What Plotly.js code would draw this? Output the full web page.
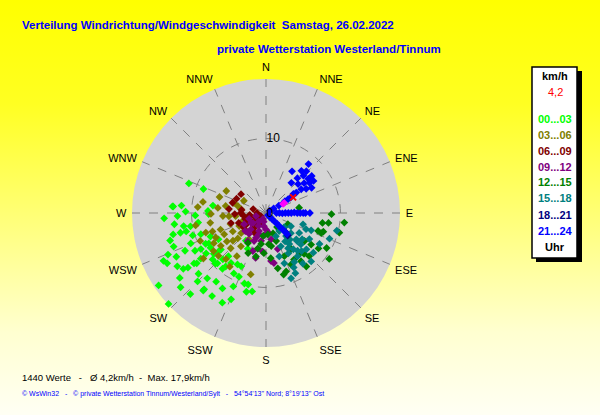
<!DOCTYPE html>
<html>
<head>
<meta charset="utf-8">
<script src="https://cdn.plot.ly/plotly-3.0.1.min.js"></script>
<style>
html,body{margin:0;padding:0;}
body{width:600px;height:415px;background:linear-gradient(to bottom,#ffff00 0%,#ffff22 25%,#ffff80 55%,#ffffd0 80%,#fffff4 100%);}
#chart{width:600px;height:415px;}
</style>
</head>
<body>
<div id="chart"></div>
<script>
// Compass labels
const dirLabels = ['N','NNE','NE','ENE','E','ESE','SE','SSE','S','SSW','SW','WSW','W','WNW','NW','NNW'];
const dirAngles = [0,22.5,45,67.5,90,112.5,135,157.5,180,202.5,225,247.5,270,292.5,315,337.5];

// Time slots (legend)
const slotLabels = ['00...03','03...06','06...09','09...12','12...15','15...18','18...21','21...24'];
const slotColors = ['#00ff00','#808000','#800000','#800080','#008000','#008080','#000080','#0000ff'];

// 00...03  direction (deg), speed (km/h)
const dir0003 = [291,291,274,275,267,268,263,261,260,262,269,278,272,257,257,253,252,250,247,245,243,239,236,235,235,242,241,236,238,232,231,223,217,215,209,208,203,197,194,190,194,202,210,216,222,228,225,233,229,236,223,219,213,227,231,221,241,247,274,206,219,243,229,224,235,248,257,268,271,205,204,244,254,207,216,225,242,218,234,245];
const spd0003 = [11.1,9.0,12.6,11.4,13.7,11.9,12.4,11.2,10.3,9.2,7.7,7.2,7.8,12.8,11.8,10.3,9.2,13.2,14.3,15.2,14.9,13.9,13.4,12.8,11.8,10.8,10.0,9.7,8.8,8.9,8.2,8.5,9.0,8.2,7.9,9.2,9.3,9.9,9.9,10.7,10.9,12.5,11.7,11.4,11.8,12.2,13.0,14.5,15.2,17.4,14.9,13.2,13.3,17.9,7.8,7.7,7.3,8.1,12.5,13.4,13.4,9.1,9.5,9.4,10.7,10.9,11.0,9.5,10.8,7.9,10.8,13.4,13.4,5.4,4.6,9.6,8.7,9.5,11.5,12.0];

// 03...06
const dir0306 = [280,275,289,299,287,279,260,276,253,243,240,234,225,228,228,194,265,264,251,280,244,243,250,252,247,228,221,230,217,213,269,244,234,260,214,214,260,299,266,241,234,284,251,234,231];
const spd0306 = [8.6,9.2,6.6,6.1,4.5,3.4,7.6,6.5,5.0,6.3,8.1,8.7,6.7,5.1,3.6,8.5,5.0,4.1,3.3,5.5,4.0,3.0,6.5,8.5,9.6,8.6,8.2,5.8,5.6,4.2,7.4,7.5,10.4,9.6,7.0,8.7,2.3,3.4,5.8,5.1,6.5,3.9,7.6,7.5,4.3];

// 06...09
const dir0609 = [307,268,287,270,260,254,228,277,263,242,218,229,219,240,254,270,207,239,250,209,296,276,287,239,245,232,262,250];
const spd0609 = [4.2,4.2,4.7,3.4,2.3,4.9,3.6,3.3,2.2,2.3,2.2,1.2,2.8,3.0,2.9,1.2,1.5,3.6,3.9,3.1,4.4,5.0,1.8,0.8,2.6,1.8,3.0,1.6];

// 09...12
const dir0912 = [223,203,193,193,219,236,189,169,162,174,171,202,198,232,201,251,190,185,180,229,213,207,253,172,199,243,210,185,220,195];
const spd0912 = [3.0,4.1,4.9,6.2,3.6,2.4,1.8,3.6,5.1,6.5,6.8,3.6,3.0,2.2,2.6,2.4,3.8,5.2,2.2,3.7,4.5,0.9,1.4,2.7,5.4,3.3,2.0,3.0,1.5,1.2];

// 12...15
const dir1215 = [81,91,100,99,97,109,108,105,120,126,126,125,137,135,144,143,154,161,164,168,174,175,175,161,160,131,117,189,193,193,183,157,149,141,110,124,171,211,204,187,142,145];
const spd1215 = [4.5,8.8,7.7,8.5,10.6,7.4,8.1,10.2,9.4,10.5,6.4,7.4,7.5,8.2,8.0,9.0,7.7,8.3,8.6,7.6,6.1,4.2,2.9,2.9,4.0,3.1,3.3,4.2,4.9,6.0,5.4,6.3,7.3,7.1,7.9,8.5,4.5,4.7,5.9,3.1,2.4,5.9];

// 15...18
const dir1518 = [107,111,112,159,139,129,131,132,132,143,151,144,156,144,128,121,121,130,144,153,160,163,118,120,112,132,143,137,146,157,137,154,104,138,148,126,140,150,135];
const spd1518 = [5.2,6.5,9.2,9.4,4.1,4.3,5.4,6.3,7.3,6.1,6.2,7.2,4.9,3.0,3.1,5.2,6.8,8.3,8.4,8.2,7.2,6.1,3.8,8.3,5.8,5.6,5.2,7.0,4.6,3.4,8.9,9.0,9.8,4.8,5.6,6.0,6.6,7.6,2.4];

// 18...21
const dir1821 = [134,136];
const spd1821 = [3.7,4.2];

// 21...24
const dir2124 = [90,90,91,90,90,90,89,90,90,90,90,90,137,136,135,135,134,135,135,134,135,135,60,59,60,58,58,57,41,32,40,44,51,45,42,40,48,52,55,61,59,56,56,55,51,56,58,60];
const spd2124 = [1.4,1.8,2.2,2.6,3.0,3.4,3.8,4.2,4.6,5.0,5.3,5.9,0.4,0.8,1.2,1.6,2.0,2.4,2.8,3.2,3.6,4.0,0.6,1.2,2.0,3.0,3.9,4.3,8.7,6.6,7.4,7.8,7.9,7.1,6.3,5.3,5.8,6.5,7.1,7.0,6.3,5.7,4.9,4.5,7.3,7.7,3.5,2.7];

// extra marks
const dirPink = [61,62];
const spdPink = [2.8,2.6];
const dirMean = [60];
const spdMean = [4.2];

const slotDirs = [dir0003,dir0306,dir0609,dir0912,dir1215,dir1518,dir1821,dir2124];
const slotSpds = [spd0003,spd0306,spd0609,spd0912,spd1215,spd1518,spd1821,spd2124];

const traces = slotDirs.map((d,i)=>({
  type:'scatterpolar', mode:'markers', theta:d, r:slotSpds[i], name:slotLabels[i],
  marker:{symbol:'diamond', size:6, color:slotColors[i], line:{width:0}},
  hoverinfo:'skip'
}));
traces.push({type:'scatterpolar',mode:'markers',theta:dirPink,r:spdPink,marker:{symbol:'diamond',size:6,color:'#ff00ff'},hoverinfo:'skip'});
traces.push({type:'scatterpolar',mode:'markers',theta:dirMean,r:spdMean,marker:{symbol:'x-thin-open',size:6,color:'#ff0000',line:{width:2,color:'#ff0000'}},hoverinfo:'skip'});

const W=600,H=415;
const px = x=>x/W, py = y=>1-y/H;
const F = 'Liberation Sans, Arial, sans-serif';

const ann = [];
ann.push({text:'Verteilung Windrichtung/Windgeschwindigkeit  Samstag, 26.02.2022',x:px(20),y:py(25),xanchor:'left',yanchor:'middle',font:{family:F,size:11.5,color:'#0000ff',weight:'bold'}});
ann.push({text:'private Wetterstation Westerland/Tinnum',x:px(443),y:py(49),xanchor:'right',yanchor:'middle',font:{family:F,size:11.5,color:'#0000ff',weight:'bold'}});
ann.push({text:'km/h',x:px(555),y:py(76),xanchor:'center',yanchor:'middle',font:{family:F,size:11,color:'#000000',weight:'bold'}});
ann.push({text:'4,2',x:px(555),y:py(92),xanchor:'center',yanchor:'middle',font:{family:F,size:11,color:'#ff0000'}});
const slotY = [119,135,151,167,182.5,198,215,231];
slotLabels.forEach((t,i)=>ann.push({text:t,x:px(555),y:py(slotY[i]),xanchor:'center',yanchor:'middle',font:{family:F,size:11,color:slotColors[i],weight:'bold'}}));
ann.push({text:'Uhr',x:px(555),y:py(247),xanchor:'center',yanchor:'middle',font:{family:F,size:11,color:'#000000',weight:'bold'}});
ann.push({text:'1440 Werte   -   Ø 4,2km/h  -  Max. 17,9km/h',x:px(20),y:py(377),xanchor:'left',yanchor:'middle',font:{family:F,size:9.5,color:'#000000'}});
ann.push({text:"© WsWin32   -   © private Wetterstation Tinnum/Westerland/Sylt   -   54°54'13'' Nord; 8°19'13'' Ost",x:px(20),y:py(394),xanchor:'left',yanchor:'middle',font:{family:F,size:7,color:'#0000ff'}});
ann.forEach(a=>{a.xref='paper';a.yref='paper';a.showarrow=false;});

const shapes = [
  {type:'rect',xref:'paper',yref:'paper',x0:px(536),x1:px(582),y0:py(262),y1:py(71),fillcolor:'#000000',line:{width:0}},
  {type:'rect',xref:'paper',yref:'paper',x0:px(532),x1:px(577),y0:py(258),y1:py(67),fillcolor:'#ffffff',line:{color:'#000000',width:1.5}}
];

const layout = {
  width:W,height:H,margin:{l:0,r:0,t:0,b:0},
  paper_bgcolor:'rgba(0,0,0,0)',plot_bgcolor:'rgba(0,0,0,0)',
  showlegend:false, hovermode:false,
  annotations:ann, shapes:shapes,
  polar:{
    domain:{x:[px(132),px(400)],y:[py(347),py(79)]},
    bgcolor:'#d4d4d4',
    angularaxis:{rotation:90,direction:'clockwise',tickmode:'array',tickvals:dirAngles,ticktext:dirLabels,
      showline:false,ticks:'outside',ticklen:3,tickcolor:'rgba(0,0,0,0)',gridcolor:'#808080',gridwidth:1,griddash:'dash',
      tickfont:{family:F,size:11,color:'#000000'}},
    radialaxis:{range:[0,18],tickmode:'array',tickvals:[0,10],ticktext:['0','10'],angle:90,side:'clockwise',tickangle:90,
      showline:false,ticks:'',gridcolor:'#808080',gridwidth:1,griddash:'dash',
      tickfont:{family:F,size:12,color:'#000000'}}
  }
};

Plotly.newPlot('chart',traces,layout,{staticPlot:true,displayModeBar:false});
</script>
</body>
</html>
